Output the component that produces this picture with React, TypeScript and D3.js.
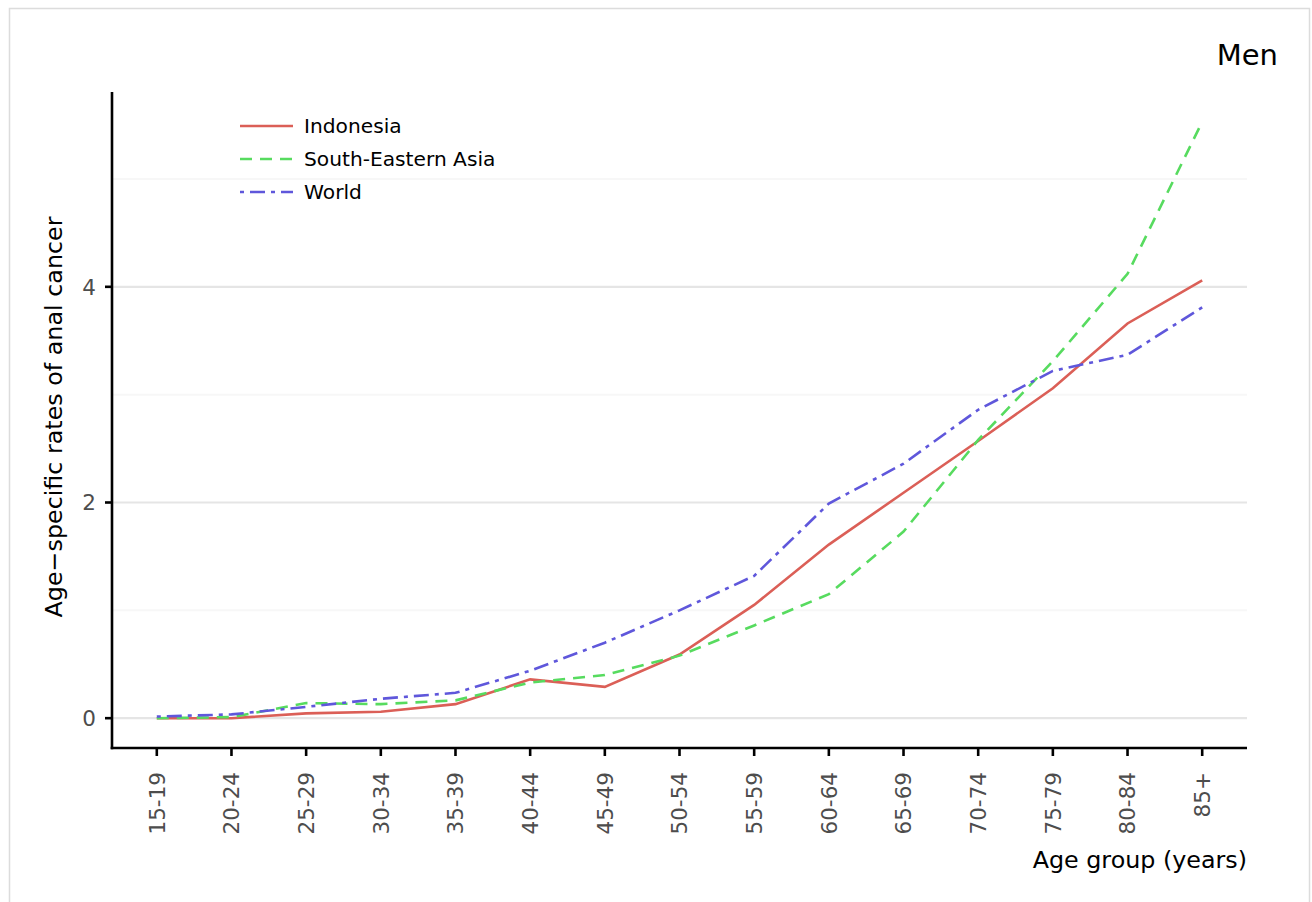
import React from "react";
import * as d3 from "d3";

const ageGroups = ["15-19","20-24","25-29","30-34","35-39","40-44","45-49","50-54","55-59","60-64","65-69","70-74","75-79","80-84","85+"];
const indonesia = [0.0, 0.0, 0.045, 0.06, 0.13, 0.36, 0.29, 0.59, 1.05, 1.61, 2.09, 2.57, 3.06, 3.66, 4.06];
const seAsia = [0.0, 0.01, 0.14, 0.13, 0.165, 0.33, 0.40, 0.58, 0.86, 1.15, 1.73, 2.58, 3.31, 4.12, 5.53];
const world = [0.015, 0.035, 0.105, 0.18, 0.235, 0.44, 0.70, 1.0, 1.32, 1.99, 2.36, 2.86, 3.22, 3.37, 3.81];
const yTicks = [0, 2, 4];
const yMinor = [1, 3, 5];

const seriesNames = ["Indonesia", "South-Eastern Asia", "World"];
const seriesColors = ["#db5f57", "#57db5f", "#5f57db"];
const seriesDash = [null, "12,8", "4,6,15,6"];
const seriesValues = [indonesia, seAsia, world];

const W = 1312, H = 902;
const panel = { left: 112, right: 1247, top: 92, bottom: 748 };
const font = "DejaVu Sans, sans-serif";

export default function App() {
  const x = d3.scalePoint<string>().domain(ageGroups).range([panel.left, panel.right]).padding(0.6);
  const dataMax = d3.max(seriesValues.flat()) as number;
  const expand = dataMax * 0.05;
  const y = d3.scaleLinear().domain([-expand, dataMax + expand]).range([panel.bottom, panel.top]);
  const line = d3.line<number>().x((_, i) => x(ageGroups[i]) as number).y((d) => y(d));

  return (
    <svg width={W} height={H} style={{ position: "absolute", left: 0, top: 0, background: "#fff" }} fontFamily={font}>
      <rect x={9.5} y={8.5} width={1300} height={910} fill="none" stroke="#dcdcdc" strokeWidth={1.5} />
      <text x={1278} y={65} textAnchor="end" fontSize={29} fill="#000">Men</text>
      {yMinor.map((v) => (
        <line key={"mn" + v} x1={panel.left} x2={panel.right} y1={y(v)} y2={y(v)} stroke="#f7f7f7" strokeWidth={2} />
      ))}
      {yTicks.map((v) => (
        <line key={"mj" + v} x1={panel.left} x2={panel.right} y1={y(v)} y2={y(v)} stroke="#e5e5e5" strokeWidth={2.2} />
      ))}
      {seriesValues.map((vals, i) => (
        <path key={seriesNames[i]} d={line(vals) || ""} fill="none" stroke={seriesColors[i]} strokeWidth={2.6}
          strokeDasharray={seriesDash[i] || undefined} />
      ))}
      <line x1={panel.left} x2={panel.left} y1={panel.top} y2={panel.bottom + 1.3} stroke="#000" strokeWidth={2.6} />
      <line x1={panel.left - 1.3} x2={panel.right} y1={panel.bottom} y2={panel.bottom} stroke="#000" strokeWidth={2.6} />
      {yTicks.map((v) => (
        <g key={"yt" + v}>
          <line x1={panel.left - 7} x2={panel.left} y1={y(v)} y2={y(v)} stroke="#000" strokeWidth={2.6} />
          <text x={panel.left - 16} y={y(v)} dy="0.36em" textAnchor="end" fontSize={21.5} fill="#4d4d4d">{v}</text>
        </g>
      ))}
      {ageGroups.map((a) => (
        <g key={"xt" + a}>
          <line x1={x(a)} x2={x(a)} y1={panel.bottom} y2={panel.bottom + 8} stroke="#000" strokeWidth={2.6} />
          <text transform={`translate(${x(a)},${panel.bottom + 24}) rotate(-90)`} dy="0.36em" textAnchor="end" fontSize={21.5} fill="#4d4d4d">{a}</text>
        </g>
      ))}
      <text x={panel.right} y={868} textAnchor="end" fontSize={23.8} fill="#000">Age group (years)</text>
      <text transform={`translate(62,${(panel.top + panel.bottom) / 2 - 3}) rotate(-90)`} textAnchor="middle" fontSize={23.8} fill="#000">Age−specific rates of anal cancer</text>
      {seriesNames.map((n, i) => (
        <g key={"lg" + n}>
          <line x1={240} x2={293} y1={126 + i * 33} y2={126 + i * 33} stroke={seriesColors[i]} strokeWidth={2.6}
            strokeDasharray={seriesDash[i] || undefined} />
          <text x={304} y={126 + i * 33} dy="0.36em" fontSize={20.2} fill="#000">{n}</text>
        </g>
      ))}
    </svg>
  );
}
